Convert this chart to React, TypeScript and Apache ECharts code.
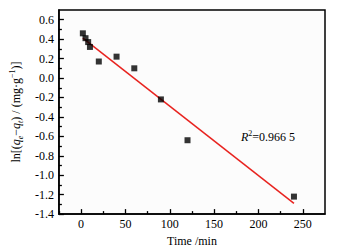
import React, { useEffect, useRef } from "react";
import * as echarts from "echarts";

const timeMin = [2, 5, 8, 10, 20, 40, 60, 90, 120, 240];
const lnValues = [0.46, 0.41, 0.37, 0.32, 0.17, 0.22, 0.1, -0.22, -0.64, -1.22];
const fitLine = [
  [2, 0.41],
  [240, -1.29],
];
const xMajorTicks = [0, 50, 100, 150, 200, 250];
const xMinorTicks = [-25, 25, 75, 125, 175, 225];
const yMajorTicks = [-1.4, -1.2, -1.0, -0.8, -0.6, -0.4, -0.2, 0.0, 0.2, 0.4, 0.6];
const yMinorTicks = [-1.3, -1.1, -0.9, -0.7, -0.5, -0.3, -0.1, 0.1, 0.3, 0.5];

const FONT = "'Liberation Serif', 'Times New Roman', serif";

export default function App() {
  const ref = useRef<HTMLDivElement>(null);
  useEffect(() => {
    if (!ref.current) return;
    const chart = echarts.init(ref.current, undefined, { renderer: "svg" });
    const axisLine = { show: true, onZero: false, lineStyle: { color: "#000", width: 1.5 } };
    const hiddenLine = { show: false, onZero: false };
    const xBase = { type: "value", min: -25, max: 275, gridIndex: 0, position: "bottom", splitLine: { show: false } };
    const yBase = { type: "value", min: -1.4, max: 0.7, gridIndex: 0, position: "left", splitLine: { show: false } };
    chart.setOption({
      animation: false,
      backgroundColor: "#ffffff",
      textStyle: { fontFamily: FONT },
      grid: {
        left: 55,
        right: 14,
        top: 10,
        bottom: 35,
        show: true,
        borderColor: "#000",
        borderWidth: 1.5,
        backgroundColor: "#fcfcfc",
      },
      xAxis: [
        {
          ...xBase,
          axisLine,
          axisTick: { show: true, inside: true, length: 5, customValues: xMajorTicks, lineStyle: { color: "#000", width: 1.3 } },
          axisLabel: { customValues: xMajorTicks, color: "#000", fontSize: 12, fontFamily: FONT, margin: 4 },
          name: "Time /min",
          nameLocation: "middle",
          nameGap: 14,
          nameTextStyle: { color: "#000", fontSize: 12, fontFamily: FONT },
        },
        {
          ...xBase,
          axisLine: hiddenLine,
          axisTick: { show: true, inside: true, length: 3, customValues: xMinorTicks, lineStyle: { color: "#000", width: 1.3 } },
          axisLabel: { show: false },
        },
      ],
      yAxis: [
        {
          ...yBase,
          axisLine,
          axisTick: { show: true, inside: true, length: 5, customValues: yMajorTicks, lineStyle: { color: "#000", width: 1.3 } },
          axisLabel: {
            customValues: yMajorTicks,
            color: "#000",
            fontSize: 12,
            fontFamily: FONT,
            margin: 5,
            formatter: (v: number) => v.toFixed(1),
          },
          name: "{t|ln[(}{i|q}{sub|e}{t|−}{i|q}{sub|t}{t|) / (mg·g}{sup|−1}{t|)]}",
          nameLocation: "middle",
          nameRotate: 90,
          nameGap: 33,
          nameTextStyle: {
            color: "#000",
            fontFamily: FONT,
            rich: {
              t: { fontSize: 12, fontFamily: FONT, color: "#000", lineHeight: 16 },
              i: { fontSize: 12, fontFamily: FONT, fontStyle: "italic", color: "#000", lineHeight: 16 },
              sub: { fontSize: 8, fontFamily: FONT, fontStyle: "italic", color: "#000", lineHeight: 9, verticalAlign: "bottom" },
              sup: { fontSize: 8, fontFamily: FONT, color: "#000", lineHeight: 9, verticalAlign: "top" },
            },
          },
        },
        {
          ...yBase,
          axisLine: hiddenLine,
          axisTick: { show: true, inside: true, length: 3, customValues: yMinorTicks, lineStyle: { color: "#000", width: 1.3 } },
          axisLabel: { show: false },
        },
      ],
      graphic: [
        {
          type: "text",
          left: 241,
          top: 129,
          style: {
            text: "{i|R}{sup|2}{t|=0.966 5}",
            fontFamily: FONT,
            rich: {
              t: { fontSize: 12, fontFamily: FONT, fill: "#000", lineHeight: 16 },
              i: { fontSize: 12, fontFamily: FONT, fontStyle: "italic", fill: "#000", lineHeight: 16 },
              sup: { fontSize: 8, fontFamily: FONT, fill: "#000", lineHeight: 9, verticalAlign: "top" },
            },
          },
        },
      ],
      series: [
        {
          type: "line",
          xAxisIndex: 0,
          yAxisIndex: 0,
          data: fitLine,
          symbol: "none",
          lineStyle: { color: "#e8231f", width: 1.5 },
          z: 2,
        },
        {
          type: "scatter",
          xAxisIndex: 0,
          yAxisIndex: 0,
          data: timeMin.map((t, i) => [t, lnValues[i]]),
          symbol: "rect",
          symbolSize: 6,
          itemStyle: { color: "#000" },
          z: 3,
        },
      ],
    });
    return () => chart.dispose();
  }, []);
  return <div ref={ref} style={{ position: "absolute", left: 0, top: 0, width: 339, height: 252 }} />;
}
